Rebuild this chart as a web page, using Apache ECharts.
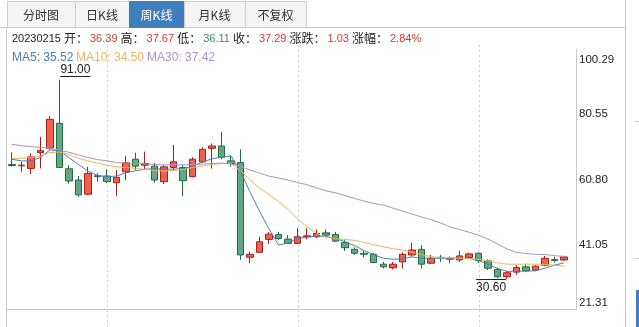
<!DOCTYPE html>
<html><head><meta charset="utf-8">
<script src="https://cdn.jsdelivr.net/npm/echarts@6/dist/echarts.min.js"></script>
<style>html,body{margin:0;padding:0;background:#fff}#c{width:639px;height:327px}</style>
</head><body><div id="c"></div>
<script>
const categories = ['20211217','20211224','20211231','20220107','20220114','20220121','20220128','20220211','20220218','20220225',
'20220304','20220311','20220318','20220325','20220401','20220408','20220415','20220422','20220429','20220506',
'20220513','20220520','20220527','20220602','20220610','20220617','20220624','20220701','20220708','20220715',
'20220722','20220729','20220805','20220812','20220819','20220826','20220902','20220909','20220916','20220923',
'20220930','20221014','20221021','20221028','20221104','20221111','20221118','20221125','20221202','20221209',
'20221216','20221223','20221230','20230106','20230113','20230120','20230203','20230210','20230215'];
const opens  = [65.3,64.9,64.1,68.9,70.2,77.8,64.0,60.6,56.3,61.9, 61.8,59.8,63.1,66.9,65.1,64.8,60.1,64.4,64.4,61.6, 66.1,70.2,70.9,66.4,65.9,37.2,38.7,42.6,44.1,42.7, 41.4,43.4,43.4,44.6,44.1,41.7,39.6,38.4,38.1,35.1, 34.0,35.8,37.9,39.6,35.4,37.2,36.6,36.4,37.1,38.4, 36.1,33.5,31.3,32.7,34.3,33.3,34.8,36.5,36.39];
const closes = [65.0,65.1,67.6,69.5,79.0,64.4,60.3,56.1,62.6,61.6, 60.1,61.4,65.8,64.8,65.6,60.6,64.6,66.1,60.4,66.9, 69.9,70.9,67.5,65.6,37.9,38.1,41.9,44.2,42.9,41.4, 43.4,43.7,44.4,43.9,42.1,40.1,38.4,38.1,35.6,34.3, 35.1,38.1,39.4,35.1,36.9,37.0,36.9,37.6,38.2,36.2, 33.9,31.3,32.5,34.1,33.1,34.5,36.9,36.26,37.29];
const lows   = [64.6,63.1,62.4,64.1,69.7,64.2,59.6,55.5,56.0,60.1, 59.6,55.7,60.6,63.6,63.6,59.8,59.4,63.6,55.7,61.4, 65.8,64.1,66.9,64.6,36.4,35.4,38.7,41.2,42.4,41.2, 41.2,42.6,42.9,43.2,41.9,39.1,37.9,37.2,35.4,33.8, 33.5,33.8,37.4,33.8,35.1,35.8,35.4,35.8,36.7,35.4, 33.3,30.8,30.6,31.9,32.8,33.1,34.5,35.6,36.11];
const highs  = [69.0,66.1,68.7,73.7,80.0,91.0,65.1,61.8,64.6,62.6, 63.8,63.6,67.9,68.9,69.2,65.8,65.1,71.2,65.1,67.5, 70.5,71.7,75.2,68.2,69.9,38.9,43.4,44.9,44.9,43.9, 46.0,46.0,45.6,45.6,44.9,42.4,40.2,39.2,38.4,35.8, 35.8,38.7,41.6,40.9,37.9,37.9,37.4,39.2,38.6,38.7, 36.6,34.1,33.1,34.8,35.3,34.8,37.6,37.4,37.67];
const ma5  = [66.9,66.4,66.4,67.4,69.7,69.5,67.4,65.3,63.3,62.0, 61.6,61.8,62.8,63.4,63.9,64.0,63.9,63.9,64.0,64.8, 66.0,67.0,67.5,67.9,63.4,57.0,51.2,45.8,40.9,41.5, 42.9,43.3,43.6,43.5,42.9,41.9,40.7,39.2,38.0,36.9, 36.6,36.7,37.3,36.9,36.9,36.9,36.9,36.9,36.9,36.2, 35.1,33.8,32.9,33.0,33.0,33.1,33.9,34.8,35.52];
const ma10 = [67.1,67.2,67.4,67.8,68.9,69.1,68.3,67.2,66.4,65.7, 65.1,64.6,64.4,64.1,63.8,63.5,63.3,63.5,63.8,64.4, 64.8,65.3,65.6,65.6,63.4,60.7,58.2,56.1,54.1,51.7, 48.8,46.4,44.4,43.3,42.8,42.6,42.3,41.7,41.0,40.4, 39.8,39.4,38.8,38.0,37.4,37.1,37.0,36.9,36.8,36.5, 36.1,35.5,35.1,35.1,35.1,35.1,35.0,34.8,34.50];
const ma30 = [71.4,71.0,70.7,70.5,70.2,69.7,69.0,68.2,67.4,66.8, 66.4,65.9,65.7,65.6,65.5,65.3,65.2,65.2,65.2,65.3, 65.4,65.6,65.7,65.5,64.8,63.6,62.7,61.8,61.2,60.6, 59.8,59.2,58.2,57.3,56.7,55.9,55.0,54.2,53.5,53.0, 52.1,51.2,50.3,49.4,48.6,47.6,46.4,45.6,44.8,43.9, 42.7,41.2,39.7,38.7,38.3,38.1,38.0,37.7,37.42];
const yMin = 21.31, yMax = 100.29;
const yTicks = [21.31, 41.05, 60.80, 80.55, 100.29];
const splitIdx = [10, 30, 49];
const tabs = ['分时图','日K线','周K线','月K线','不复权'];
const activeTab = 2;
const infoDate = '20230215';
const infoOpen = 36.39, infoHigh = 37.67, infoLow = 36.11, infoClose = 37.29, infoChange = 1.03, infoPct = 2.84;

const FONT = '"Liberation Sans","Noto Sans CJK SC",sans-serif';
const CJK = '"Noto Sans CJK SC",sans-serif';
const RED = '#d8382c', GREEN = '#3d8c5c';
const C5 = '#4d7fae', C10 = '#eeb460', C30 = '#b290c6';

const chart = echarts.init(document.getElementById('c'), null, {renderer:'canvas'});
const candleData = categories.map((c,i)=>[opens[i],closes[i],lows[i],highs[i]]);
const maxI = highs.indexOf(Math.max(...highs));
const minI = lows.indexOf(Math.min(...lows));

const tabEdges = [7,75,129,184,245,306];
const graphics = [];
graphics.push({type:'line', shape:{x1:0,y1:27.5,x2:625,y2:27.5}, style:{stroke:'#c8c8c8',lineWidth:1}});
tabs.forEach((t,i)=>{
  const x0 = tabEdges[i], x1 = tabEdges[i+1];
  graphics.push({type:'rect', shape:{x:x0+0.5,y:1.5,width:x1-x0,height:26}, style:{fill: i===activeTab?'#3f7fbf':'#f4f4f4', stroke: i===activeTab?'#3f7fbf':'#cfcfcf', lineWidth:1}});
  graphics.push({type:'text', x:(x0+x1)/2, y:15, style:{text:t, fill: i===activeTab?'#fff':'#333', fontSize:12, fontFamily:CJK, align:'center', verticalAlign:'middle'}});
});
// info row
const num = c => ({fill:c, fontSize:11, fontFamily:FONT, padding:[0,0,0,2]});
graphics.push({type:'text', x:12, y:38.5, style:{
  rich:{d:{fill:'#222', fontSize:11, fontFamily:FONT}, k:{fill:'#222', fontSize:12, fontFamily:CJK}, r:num(RED), g:num(GREEN)},
  text:`{d|${infoDate} }{k|开：}{r|${infoOpen.toFixed(2)} }{k|高：}{r|${infoHigh.toFixed(2)} }{k|低：}{g|${infoLow.toFixed(2)} }{k|收：}{r|${infoClose.toFixed(2)} }{k|涨跌：}{r|${infoChange.toFixed(2)} }{k|涨幅：}{r|${infoPct.toFixed(2)}%}`,
  verticalAlign:'middle'}});
// MA legend row
const maItems = [['MA5',ma5,C5,12],['MA10',ma10,C10,76],['MA30',ma30,C30,147]];
maItems.forEach(([n,a,c,x])=>{
  graphics.push({type:'text', x:x, y:57.5, style:{text:n+': '+a[a.length-1].toFixed(2), fill:c, fontSize:12, fontFamily:FONT, verticalAlign:'middle'}});
});
// frame lines
graphics.push({type:'line', shape:{x1:6.5,y1:27.5,x2:6.5,y2:327}, style:{stroke:'#c8c8c8',lineWidth:1}});
graphics.push({type:'line', shape:{x1:6.5,y1:309.5,x2:576,y2:309.5}, style:{stroke:'#c8c8c8',lineWidth:1}});
graphics.push({type:'line', shape:{x1:625.5,y1:0,x2:625.5,y2:327}, style:{stroke:'#c8c8c8',lineWidth:1}});
graphics.push({type:'line', shape:{x1:635,y1:121.5,x2:639,y2:121.5}, style:{stroke:'#c8c8c8',lineWidth:1}});
graphics.push({type:'line', shape:{x1:635,y1:258.5,x2:639,y2:258.5}, style:{stroke:'#c8c8c8',lineWidth:1}});
graphics.push({type:'rect', shape:{x:636,y:290,width:3,height:37}, style:{fill:'#3f7fbf'}});

const yBase = {type:'value', min:yMin, max:yMax, position:'right', offset:7, gridIndex:0,
  axisTick:{show:false}, splitLine:{show:false}, axisLine:{show:false}};
const lbl = (vals, va, pad)=>({show:true, customValues:vals, formatter:v=>v.toFixed(2), margin:3, color:'#222', fontSize:11.5, fontFamily:FONT, verticalAlign:va, padding:pad});

const option = {
  animation:false,
  backgroundColor:'#fff',
  textStyle:{fontFamily:FONT},
  graphic:graphics,
  grid:[{left:7, top:49, width:562, height:260.7}],
  xAxis:[{type:'category', data:categories, gridIndex:0, boundaryGap:true,
    axisLine:{show:false}, axisTick:{show:false}, axisLabel:{show:false}, splitLine:{show:false}}],
  yAxis:[
    Object.assign({}, yBase, {axisLine:{show:true, lineStyle:{color:'#c8c8c8'}}, axisLabel:lbl(yTicks.slice(1,4),'middle',[2,0,0,0])}),
    Object.assign({}, yBase, {axisLabel:lbl([yTicks[4]],'top',[5,0,0,0])}),
    Object.assign({}, yBase, {axisLabel:lbl([yTicks[0]],'bottom',[0,0,1,0])})
  ],
  series:[
    {type:'custom', name:'split', silent:true, clip:false, data:splitIdx.map(i=>[i, yMax]),
      renderItem:(params, api)=>{
        const p = api.coord([api.value(0), api.value(1)]);
        const x = Math.round(p[0])+0.5;
        return {type:'line', shape:{x1:x,y1:p[1]-4,x2:x,y2:api.getHeight()}, style:{stroke:'#cfcfcf', lineWidth:1, lineDash:[2,3]}};
      }, z:1},
    {type:'candlestick', name:'K', data:candleData, barWidth:7,
      itemStyle:{color:'#f2604a', color0:'#62a983', borderColor:'#a61f1f', borderColor0:'#226b41', borderWidth:1}, z:3},
    {type:'line', name:'MA5', data:ma5, showSymbol:false, symbol:'none', lineStyle:{color:C5,width:1}, itemStyle:{color:C5}, z:4},
    {type:'line', name:'MA10', data:ma10, showSymbol:false, symbol:'none', lineStyle:{color:C10,width:1}, itemStyle:{color:C10}, z:4},
    {type:'line', name:'MA30', data:ma30, showSymbol:false, symbol:'none', lineStyle:{color:C30,width:1}, itemStyle:{color:C30}, z:4},
    {type:'custom', name:'marks', silent:true, clip:false, z:5,
      data:[[maxI, highs[maxI], 0],[minI, lows[minI], 1]],
      renderItem:(params, api)=>{
        const p = api.coord([api.value(0), api.value(1)]);
        const kind = api.value(2);
        const txt = api.value(1).toFixed(2);
        if (kind===0){
          const y = Math.round(p[1]-4)+0.5;
          return {type:'group', children:[
            {type:'line', shape:{x1:p[0]+1,y1:y,x2:p[0]+31,y2:y}, style:{stroke:'#222',lineWidth:1}},
            {type:'text', x:p[0]+16, y:y-1, style:{text:txt, fill:'#222', fontSize:12, fontFamily:FONT, align:'center', verticalAlign:'bottom'}}
          ]};
        } else {
          const y = Math.round(p[1])+0.5;
          return {type:'group', children:[
            {type:'line', shape:{x1:p[0]-31,y1:y,x2:p[0]-1,y2:y}, style:{stroke:'#222',lineWidth:1}},
            {type:'text', x:p[0]-16, y:y+2, style:{text:txt, fill:'#222', fontSize:12, fontFamily:FONT, align:'center', verticalAlign:'top'}}
          ]};
        }
      }}
  ]
};
chart.setOption(option);
</script>
</body></html>
